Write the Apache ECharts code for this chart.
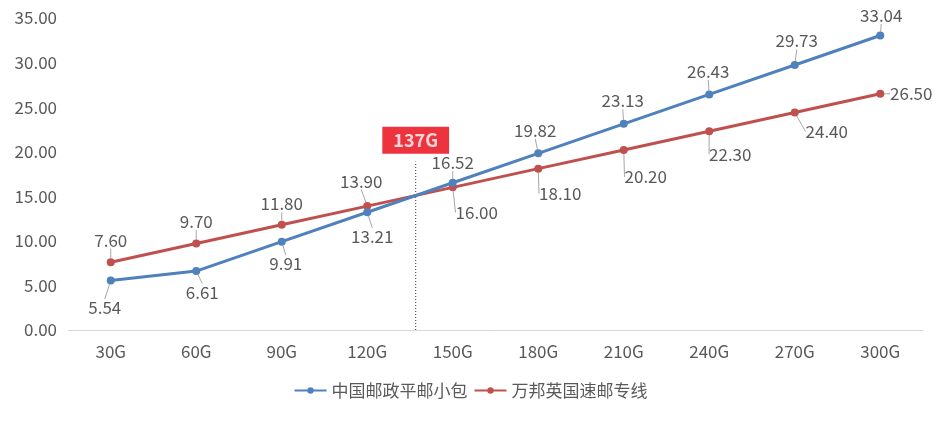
<!DOCTYPE html>
<html>
<head>
<meta charset="utf-8">
<script src="https://cdn.jsdelivr.net/npm/echarts@6/dist/echarts.min.js"></script>
<style>
html,body{margin:0;padding:0;background:#fff;}
#chart{width:941px;height:422px;}
</style>
</head>
<body>
<div id="chart"></div>
<script>
const categories = ['30G','60G','90G','120G','150G','180G','210G','240G','270G','300G'];
const seriesNames = ['中国邮政平邮小包','万邦英国速邮专线'];
const chinaPost = [5.54, 6.61, 9.91, 13.21, 16.52, 19.82, 23.13, 26.43, 29.73, 33.04];
const wanbang = [7.60, 9.70, 11.80, 13.90, 16.00, 18.10, 20.20, 22.30, 24.40, 26.50];
const crossWeight = 137;
const crossLabel = '137G';
const yTicks = {min: 0, max: 35, interval: 5};

// label offsets (layout only)
const blueOff = [[-6,27],[6,21],[4,22],[5,24],[0,-20],[-3,-23],[-1,-23],[-1,-23],[2,-24],[1,-20]];
const redOff = [[0,-22],[0,-22],[0,-21],[-6,-25],[24,25],[22,25],[22,27],[21,23],[32,19],[31,0]];

const chart = echarts.init(document.getElementById('chart'));
const txt = '#595959';
const font = '"Noto Sans CJK SC", "Microsoft YaHei", sans-serif';
const fs = 17;

function mkLabel(off){
  return function(p){ return {dx: off[p.dataIndex][0], dy: off[p.dataIndex][1]}; };
}

chart.setOption({
  backgroundColor: '#fff',
  animation: false,
  textStyle: {fontFamily: font},
  grid: {left: 68, right: 18, top: 18, bottom: 92, containLabel: false},
  legend: {
    data: seriesNames,
    bottom: 18,
    left: 'center',
    itemWidth: 32,
    itemHeight: 8,
    itemGap: 6,
    textStyle: {color: txt, fontSize: fs, fontFamily: font}
  },
  xAxis: [{
    type: 'category',
    data: categories,
    boundaryGap: true,
    axisLine: {lineStyle: {color: '#d9d9d9', width: 1}},
    axisTick: {show: false},
    axisLabel: {color: txt, fontSize: fs, margin: 13, fontFamily: font}
  },{
    type: 'value', min: 15, max: 315, show: false
  }],
  yAxis: {
    type: 'value',
    min: yTicks.min, max: yTicks.max, interval: yTicks.interval,
    axisLine: {show: false},
    axisTick: {show: false},
    splitLine: {show: false},
    axisLabel: {color: txt, fontSize: fs, margin: 11, fontFamily: font, formatter: v => v.toFixed(2)}
  },
  series: [{
    name: seriesNames[0],
    type: 'line',
    data: chinaPost,
    z: 4,
    symbol: 'circle', symbolSize: 8,
    itemStyle: {color: '#4f81bd'},
    lineStyle: {color: '#4f81bd', width: 3},
    label: {show: true, position: 'inside', color: txt, fontSize: fs, fontFamily: font, formatter: p => p.value.toFixed(2)},
    labelLine: {show: true, lineStyle: {color: '#a6a6a6', width: 1}},
    labelLayout: mkLabel(blueOff)
  },{
    name: seriesNames[1],
    type: 'line',
    data: wanbang,
    z: 3,
    symbol: 'circle', symbolSize: 8,
    itemStyle: {color: '#c0504d'},
    lineStyle: {color: '#c0504d', width: 3},
    label: {show: true, position: 'inside', color: txt, fontSize: fs, fontFamily: font, formatter: p => p.value.toFixed(2)},
    labelLine: {show: true, lineStyle: {color: '#a6a6a6', width: 1}},
    labelLayout: mkLabel(redOff)
  },{
    name: 'cross',
    type: 'line',
    xAxisIndex: 1,
    data: [[crossWeight, 0],[crossWeight, 18.9]],
    symbol: 'none',
    silent: true,
    z: 1,
    lineStyle: {color: '#333', width: 1, type: [1,2]}
  },{
    name: 'crossLabel',
    type: 'scatter',
    xAxisIndex: 1,
    data: [[crossWeight, 21.3]],
    symbolSize: 0,
    silent: true,
    label: {
      show: true, position: 'inside', formatter: crossLabel,
      color: '#fff', fontSize: 18, fontWeight: 'bold', fontFamily: font,
      backgroundColor: '#e8000e', padding: [5, 11, 4, 11]
    }
  }]
});
</script>
</body>
</html>
